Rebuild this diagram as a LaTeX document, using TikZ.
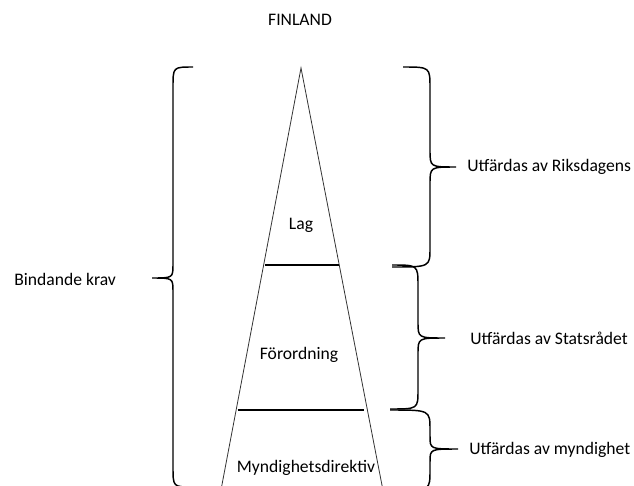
\documentclass[tikz,border=0pt]{standalone}
\usepackage{fontspec}
\setmainfont{Carlito}
\begin{document}
\begin{tikzpicture}[x=0.75pt,y=-0.75pt,
  lbl/.style={inner sep=0pt,font=\fontsize{13.2pt}{15pt}\selectfont},
  edge/.style={draw=black!80,line width=0.6pt},
  bar/.style={draw=black,line width=1.1pt},
  brace/.style={draw=black,line width=1.1pt}]
\useasboundingbox (0,0) rectangle (634,485);
\clip (0,0) rectangle (634,485);
% triangle
\coordinate (apex) at (301,68);
\coordinate (bl) at (220.4,493);
\coordinate (br) at (383.5,493);
\draw[edge] (bl) -- (apex) -- (br);
% level lines
\coordinate (l1a) at (264.5,265);
\coordinate (l1b) at (338.5,265);
\coordinate (l2a) at (237.5,410);
\coordinate (l2b) at (364,410);
\draw[bar] (l1a) -- (l1b);
\draw[bar] (l2a) -- (l2b);
% left brace
\draw[brace] (193,67) .. controls (173,67) .. (173,87) -- (173,264)
  .. controls (173,278) .. (152,278) .. controls (173,278) .. (173,292)
  -- (173,467) .. controls (173,487) .. (193,487);
% right brace 1
\draw[brace] (403,67) .. controls (430,67) .. (430,88) -- (430,150)
  .. controls (430,167) .. (456,167) .. controls (430,167) .. (430,184)
  -- (430,248) .. controls (430,267) .. (392,267);
% right brace 2
\draw[brace] (392,265) .. controls (418,265) .. (418,286) -- (418,322)
  .. controls (418,338) .. (445,338) .. controls (418,338) .. (418,354)
  -- (418,390) .. controls (418,409) .. (390,409);
% right brace 3
\draw[brace] (390,410) .. controls (430,410) .. (430,430) -- (430,436)
  .. controls (430,449) .. (458,449) .. controls (430,449) .. (430,462)
  -- (430,470) .. controls (430,490) .. (400,492);
% texts
\node[lbl] (title) at (300,20) {FINLAND};
\node[lbl] (lag) at (301,225) {Lag};
\node[lbl] (forordning) at (299,355) {Förordning};
\node[lbl] (myndir) at (306,468) {Myndighetsdirektiv};
\node[lbl,anchor=west] (bindande) at (14,279) {Bindande krav};
\node[lbl,anchor=west] (riksdag) at (467,167) {Utfärdas av Riksdagens};
\node[lbl,anchor=west] (statsradet) at (470,338) {Utfärdas av Statsrådet};
\node[lbl,anchor=west] (myndighet) at (469,450) {Utfärdas av myndighet};
\end{tikzpicture}
\end{document}
